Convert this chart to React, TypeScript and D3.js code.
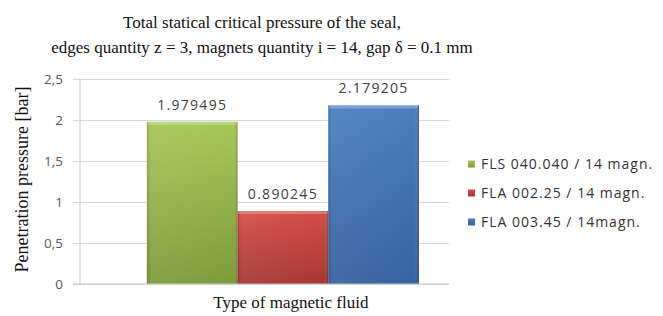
import React from 'react';
import * as d3 from 'd3';

const categories = ['Type of magnetic fluid'];
const seriesNames = ['FLS 040.040 / 14 magn.', 'FLA 002.25 / 14 magn.', 'FLA 003.45 / 14magn.'];
const seriesValues = [1.979495, 0.890245, 2.179205];
const seriesColors = [
  { top: '#a6c857', bottom: '#7c9b3a', id: 'g' },
  { top: '#d24e4b', bottom: '#a83633', id: 'r' },
  { top: '#4c7fc0', bottom: '#3562a0', id: 'b' },
];
const yTicks = [0, 0.5, 1, 1.5, 2, 2.5];
const titleLines = [
  'Total statical critical pressure of the seal,',
  'edges quantity z = 3, magnets quantity i = 14, gap \u03b4 = 0.1 mm',
];

const width = 663;
const height = 316;
const margin = { top: 79, right: 214, bottom: 32, left: 80 };

const App: React.FC = () => {
  const svgRef = React.useRef<SVGSVGElement>(null);

  React.useEffect(() => {
    const innerW = width - margin.left - margin.right;
    const innerH = height - margin.top - margin.bottom;

    const svgEl = d3.select(svgRef.current);
    svgEl.selectAll('*').remove();

    // gradients for the bevelled bars
    const defs = svgEl.append('defs');
    seriesColors.forEach((c) => {
      const g = defs
        .append('linearGradient')
        .attr('id', `grad-${c.id}`)
        .attr('x1', 0)
        .attr('y1', 0)
        .attr('x2', 0)
        .attr('y2', 1);
      g.append('stop').attr('offset', '0%').attr('stop-color', c.top);
      g.append('stop').attr('offset', '100%').attr('stop-color', c.bottom);
      const h = defs
        .append('linearGradient')
        .attr('id', `edge-${c.id}`)
        .attr('x1', 0)
        .attr('y1', 0)
        .attr('x2', 1)
        .attr('y2', 0);
      h.append('stop').attr('offset', '0%').attr('stop-color', '#000').attr('stop-opacity', 0.12);
      h.append('stop').attr('offset', '5%').attr('stop-color', '#fff').attr('stop-opacity', 0.06);
      h.append('stop').attr('offset', '95%').attr('stop-color', '#fff').attr('stop-opacity', 0);
      h.append('stop').attr('offset', '100%').attr('stop-color', '#000').attr('stop-opacity', 0.22);
    });

    // title
    svgEl
      .append('g')
      .selectAll('text')
      .data(titleLines)
      .enter()
      .append('text')
      .attr('x', 262)
      .attr('y', (d, i) => 28 + i * 25)
      .attr('text-anchor', 'middle')
      .attr('font-family', '"Liberation Serif", "Times New Roman", serif')
      .attr('font-size', 17)
      .attr('fill', '#111')
      .text((d) => d);

    const svg = svgEl.append('g').attr('transform', `translate(${margin.left},${margin.top})`);

    const yScale = d3.scaleLinear().domain([0, 2.5]).range([innerH, 0]);
    const x0 = d3
      .scaleBand()
      .domain(categories)
      .range([0, innerW])
      .paddingInner(0)
      .paddingOuter(0.178)
      .align(0.69);
    const x1 = d3.scaleBand().domain(seriesNames).range([0, x0.bandwidth()]).padding(0);

    // grid
    const yAxis = d3
      .axisLeft(yScale)
      .tickValues(yTicks)
      .tickSize(-innerW)
      .tickPadding(17)
      .tickFormat((v) => String(v).replace('.', ','));
    const yAxisGroup = svg.append('g').call(yAxis);
    yAxisGroup.select('.domain').remove();
    yAxisGroup.selectAll('line').attr('stroke', '#d9d9d9').attr('x1', -7);
    yAxisGroup
      .selectAll('text')
      .attr('fill', '#595959')
      .attr('font-family', '"Open Sans", sans-serif')
      .attr('font-size', 13.5);

    // vertical axis line
    svg
      .append('line')
      .attr('x1', 0)
      .attr('x2', 0)
      .attr('y1', yScale(2.5))
      .attr('y2', yScale(0))
      .attr('stroke', '#c8c8c8');

    // bars
    const group = svg
      .append('g')
      .selectAll('g')
      .data(categories)
      .enter()
      .append('g')
      .attr('transform', (d) => `translate(${x0(d)},0)`);

    seriesNames.forEach((name, i) => {
      const c = seriesColors[i];
      const v = seriesValues[i];
      const bx = x1(name)!;
      const bw = x1.bandwidth();
      group
        .append('rect')
        .attr('x', bx)
        .attr('y', yScale(v))
        .attr('width', bw)
        .attr('height', innerH - yScale(v))
        .attr('fill', `url(#grad-${c.id})`);
      group
        .append('rect')
        .attr('x', bx)
        .attr('y', yScale(v))
        .attr('width', bw)
        .attr('height', innerH - yScale(v))
        .attr('fill', `url(#edge-${c.id})`);
      group
        .append('rect')
        .attr('x', bx + 1)
        .attr('y', yScale(v))
        .attr('width', bw - 2)
        .attr('height', 3)
        .attr('fill', '#fff')
        .attr('opacity', 0.25);
      group
        .append('text')
        .attr('x', bx + bw / 2)
        .attr('y', yScale(v) - 12)
        .attr('text-anchor', 'middle')
        .attr('font-family', '"Open Sans", sans-serif')
        .attr('font-size', 14)
        .attr('letter-spacing', 1.3)
        .attr('fill', '#404040')
        .text(String(v));
    });

    // baseline
    svg
      .append('line')
      .attr('x1', -7)
      .attr('x2', innerW)
      .attr('y1', yScale(0))
      .attr('y2', yScale(0))
      .attr('stroke', '#c8c8c8');

    // axis titles
    svg
      .append('text')
      .attr('x', x0(categories[0])! + x0.bandwidth() / 2 + 8)
      .attr('y', innerH + 24)
      .attr('text-anchor', 'middle')
      .attr('font-family', '"Liberation Serif", "Times New Roman", serif')
      .attr('font-size', 17)
      .attr('fill', '#111')
      .text('Type of magnetic fluid');

    svgEl
      .append('text')
      .attr('transform', `translate(28,${margin.top + innerH / 2 - 2}) rotate(-90)`)
      .attr('text-anchor', 'middle')
      .attr('font-family', '"Liberation Serif", "Times New Roman", serif')
      .attr('font-size', 18)
      .attr('fill', '#111')
      .text('Penetration pressure [bar]');

    // legend
    const legend = svgEl
      .append('g')
      .attr('transform', 'translate(468,164)')
      .selectAll('g')
      .data(seriesNames)
      .enter()
      .append('g')
      .attr('transform', (d, i) => `translate(0,${i * 29})`);
    legend
      .append('rect')
      .attr('x', 0)
      .attr('y', -3.5)
      .attr('width', 7)
      .attr('height', 7)
      .attr('fill', (d, i) => `url(#grad-${seriesColors[i].id})`);
    legend
      .append('text')
      .attr('x', 13)
      .attr('y', 5)
      .attr('font-family', '"Open Sans", sans-serif')
      .attr('font-size', 14)
      .attr('letter-spacing', 1.0)
      .attr('fill', '#333')
      .text((d) => d);
  }, []);

  return (
    <svg
      ref={svgRef}
      width={width}
      height={height}
      style={{ position: 'absolute', left: 0, top: 0, background: '#fff' }}
    />
  );
};

export default App;
